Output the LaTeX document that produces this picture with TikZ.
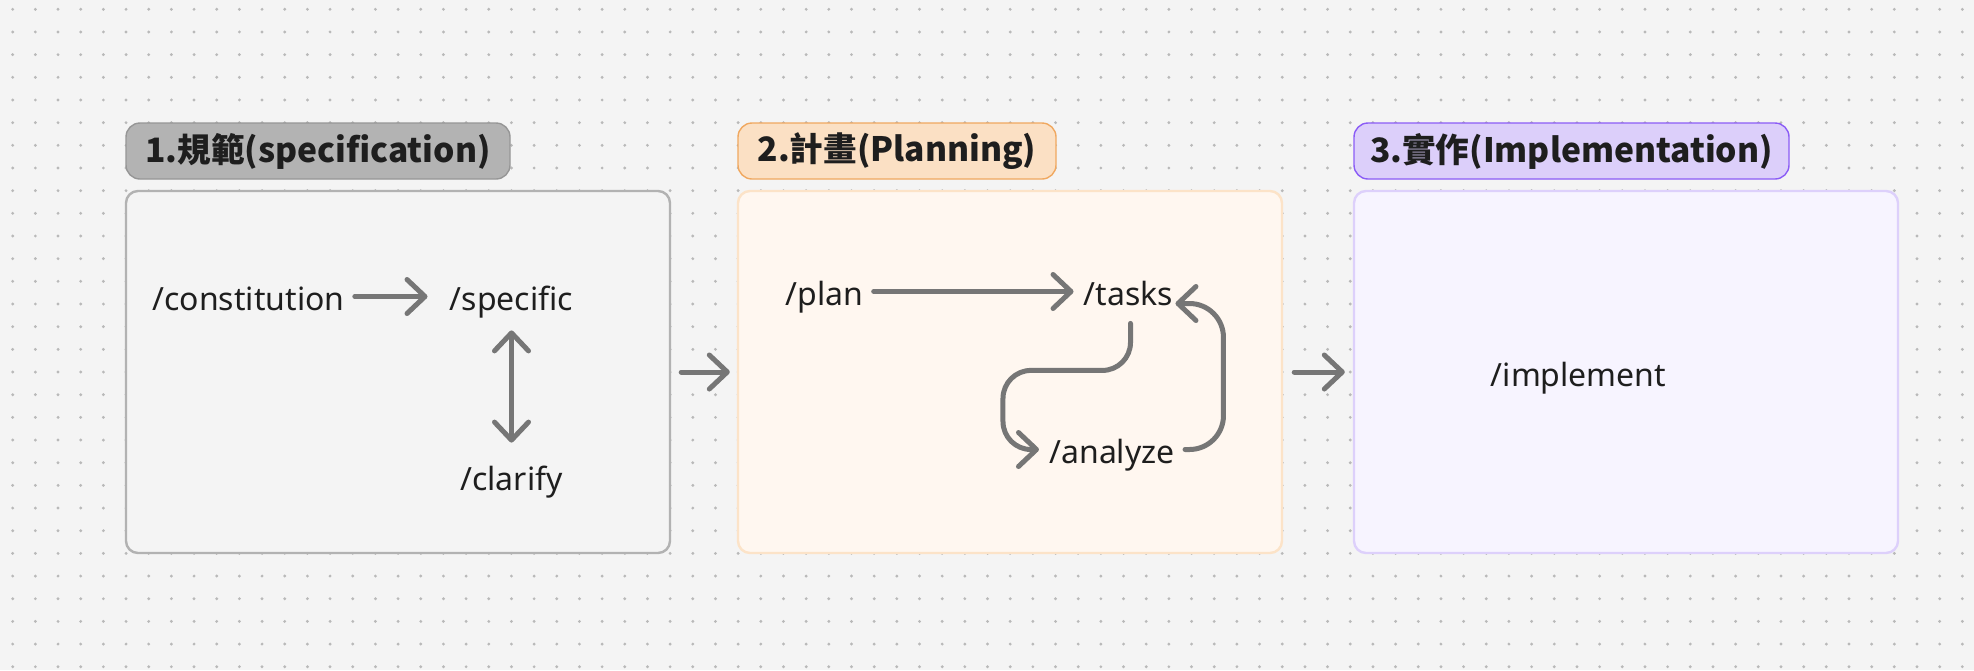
\documentclass[tikz,border=0pt]{standalone}
\usepackage{fontspec}
\setmainfont{Noto Sans}
\newfontfamily\cjkfont{Noto Sans CJK TC}
\usetikzlibrary{arrows.meta}
\definecolor{canvasGray}{RGB}{244,244,244}
\definecolor{dotGray}{RGB}{185,185,185}
\definecolor{inkBlack}{RGB}{30,30,30}
\definecolor{arrowGray}{RGB}{118,118,118}
\definecolor{specFill}{RGB}{244,244,244}
\definecolor{specLine}{RGB}{178,178,178}
\definecolor{specTag}{RGB}{179,179,179}
\definecolor{specTagLine}{RGB}{150,150,150}
\definecolor{planFill}{RGB}{255,247,240}
\definecolor{planLine}{RGB}{252,227,200}
\definecolor{planTag}{RGB}{251,224,196}
\definecolor{planTagLine}{RGB}{240,168,96}
\definecolor{implFill}{RGB}{247,244,255}
\definecolor{implLine}{RGB}{221,208,251}
\definecolor{implTag}{RGB}{220,207,250}
\definecolor{implTagLine}{RGB}{139,92,246}

\begin{document}
\begin{tikzpicture}[x=0.5pt, y=-0.5pt,
  stage/.style={draw, line width=1.2pt, rounded corners=6pt, minimum width=272pt, minimum height=181pt},
  tag/.style={draw, line width=0.7pt, rounded corners=7pt, minimum height=28pt, text=inkBlack,
    font=\cjkfont\bfseries\fontsize{16.8}{20}\selectfont},
  cmd/.style={font=\fontsize{16}{19}\selectfont, text=inkBlack, text height=17.5pt, text depth=4pt,
    inner sep=5pt, anchor=base},
  link/.style={draw=arrowGray, line width=2.5pt, line cap=round, line join=round,
    >={Straight Barb[round, length=9pt, width=17pt]}, ->}
]
% Canvas with dot grid
\useasboundingbox (0,0) rectangle (1974,670);
\fill[canvasGray] (0,0) rectangle (1974,670);
\foreach \i in {0,...,86} {
  \foreach \j in {0,...,29} {
    \fill[dotGray] ({12.7+22.67*\i},{9.3+22.67*\j}) circle (0.8pt);
  }
}

% Stages
\node[stage, fill=specFill, draw=specLine] (specBox) at (398,372) {};
\node[stage, fill=planFill, draw=planLine] (planBox) at (1010,372) {};
\node[stage, fill=implFill, draw=implLine] (implBox) at (1626,372) {};

\node[tag, fill=specTag, draw=specTagLine, minimum width=192pt] (specTitle) at (318,151) {1.規範(specification)};
\node[tag, fill=planTag, draw=planTagLine, minimum width=159pt] (planTitle) at (897,151) {2.計畫(Planning)};
\node[tag, fill=implTag, draw=implTagLine, minimum width=217.5pt] (implTitle) at (1571.5,151) {3.實作(Implementation)};

% Commands
\node[cmd] (constitution) at (248.5,310) {/constitution};
\node[cmd] (specific) at (511.5,310) {/specific};
\node[cmd] (clarify) at (511.5,490) {/clarify};
\node[cmd] (plan) at (824.5,305) {/plan};
\node[cmd] (tasks) at (1128.5,305) {/tasks};
\node[cmd] (analyze) at (1112,463) {/analyze};
\node[cmd] (implement) at (1578.5,386) {/implement};

% Links
\draw[link, shorten >=6pt] (constitution.east) -- (specific.west);
\draw[link, <->, shorten <=1pt, shorten >=1pt] (specific.south) -- (clarify.north);
\draw[link] (plan.east) -- (tasks.west);
\draw[link, rounded corners=14pt] ([xshift=1pt]tasks.south) -- ++(0,47) -| ([xshift=-18pt]analyze.west) -- (analyze.west);
\draw[link, rounded corners=17pt] (analyze.east) -| ([xshift=20pt, yshift=-6pt]tasks.east) -- ([xshift=-4pt, yshift=-6pt]tasks.east);
\draw[link, shorten <=5pt, shorten >=3.5pt] (specBox.east) -- (planBox.west);
\draw[link, shorten <=5.5pt, shorten >=4pt] (planBox.east) -- (implBox.west);
\end{tikzpicture}
\end{document}
